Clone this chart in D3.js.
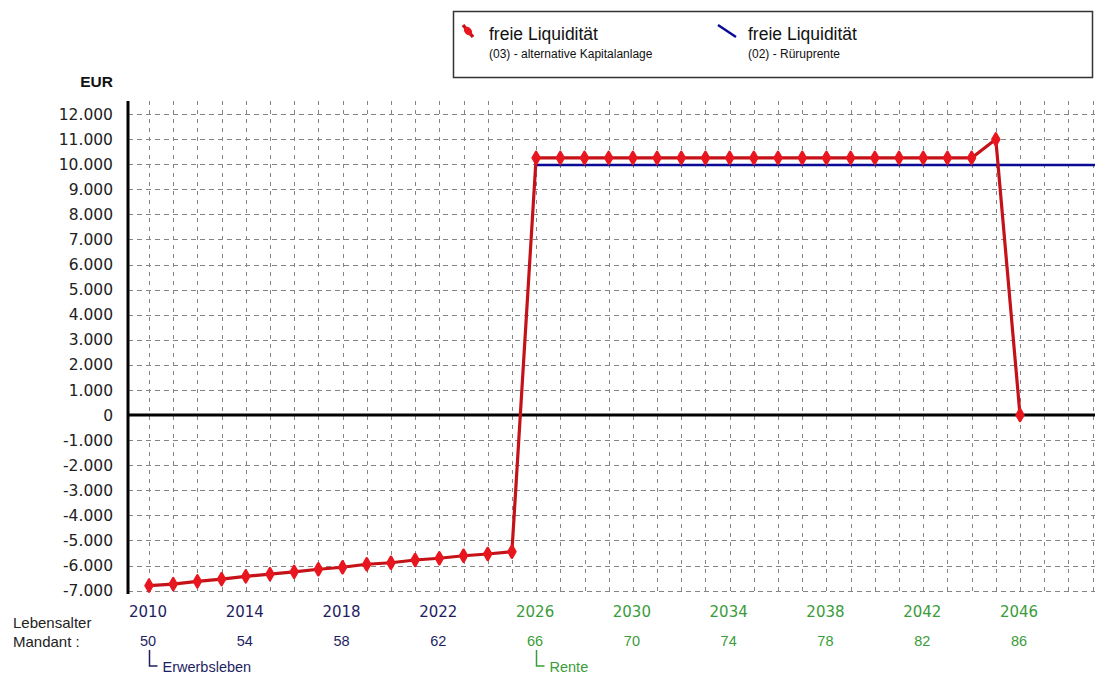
<!DOCTYPE html>
<html>
<head>
<meta charset="utf-8">
<script src="https://cdn.jsdelivr.net/npm/d3@7"></script>
<style>
  html, body { margin: 0; padding: 0; background: #fff; }
  svg { display: block; }
</style>
</head>
<body>
<svg id="chart" width="1095" height="675"></svg>
<script>
// ---------------- data ----------------
const redYears = [2010,2011,2012,2013,2014,2015,2016,2017,2018,2019,2020,2021,2022,2023,2024,2025,
                  2026,2027,2028,2029,2030,2031,2032,2033,2034,2035,2036,2037,2038,2039,2040,2041,2042,2043,2044,2045,2046];
const redValues = [-6800,-6740,-6630,-6540,-6430,-6340,-6250,-6150,-6070,-5950,-5890,-5780,-5710,-5610,-5540,-5450,
                   10250,10250,10250,10250,10250,10250,10250,10250,10250,10250,10250,10250,10250,10250,10250,10250,10250,10250,10250,10990,0];
const blueYears = [2026,2027,2028,2029,2030,2031,2032,2033,2034,2035,2036,2037,2038,2039,2040,2041,2042,2043,2044,2045,2046,2047,2048,2049,2050];
const blueValues = [9970,9970,9970,9970,9970,9970,9970,9970,9970,9970,9970,9970,9970,9970,9970,9970,9970,9970,9970,9970,9970,9970,9970,9970,9970];
const yTicks = [12000,11000,10000,9000,8000,7000,6000,5000,4000,3000,2000,1000,0,-1000,-2000,-3000,-4000,-5000,-6000,-7000];
const yTickLabels = ["12.000","11.000","10.000","9.000","8.000","7.000","6.000","5.000","4.000","3.000","2.000","1.000","0","-1.000","-2.000","-3.000","-4.000","-5.000","-6.000","-7.000"];
const gridYears = [2010,2011,2012,2013,2014,2015,2016,2017,2018,2019,2020,2021,2022,2023,2024,2025,2026,2027,2028,2029,
                   2030,2031,2032,2033,2034,2035,2036,2037,2038,2039,2040,2041,2042,2043,2044,2045,2046,2047,2048,2049];
const yearLabels = [2010,2014,2018,2022,2026,2030,2034,2038,2042,2046];
const ageLabels = [50,54,58,62,66,70,74,78,82,86];
const retireYear = 2026;
const legendItems = [
  {title: "freie Liquidität", sub: "(03) - alternative Kapitalanlage", color: "red"},
  {title: "freie Liquidität", sub: "(02) - Rüruprente", color: "blue"}
];

// ---------------- layout ----------------
const svg = d3.select("#chart");
const plotLeft = 128, plotRight = 1095, plotTop = 101, plotBottom = 594;
const x = d3.scaleLinear().domain([2010, 2046]).range([149, 1020]);
const y = d3.scaleLinear().domain([-7000, 12000]).range([590.6, 114]);
const navy = "#1e1e62", green = "#3a9c3a";
const redLine = "#c41218", redMark = "#e8161e", blueLine = "#0a0a96";
const sans = "'Liberation Sans', Arial, sans-serif";
const wide = "'DejaVu Sans', sans-serif";

svg.append("defs").append("clipPath").attr("id", "plotclip")
  .append("rect").attr("x", plotLeft).attr("y", plotTop - 10)
  .attr("width", plotRight - plotLeft).attr("height", plotBottom - plotTop + 20);

// grid
const grid = svg.append("g");
grid.selectAll("line.h").data(yTicks).join("line")
  .attr("x1", plotLeft).attr("x2", plotRight)
  .attr("y1", d => Math.round(y(d)) + 0.5).attr("y2", d => Math.round(y(d)) + 0.5)
  .attr("stroke", "#858585").attr("stroke-width", 1).attr("stroke-dasharray", "5,4");
grid.selectAll("line.v").data(gridYears).join("line")
  .attr("x1", d => Math.round(x(d)) + 0.5).attr("x2", d => Math.round(x(d)) + 0.5)
  .attr("y1", plotTop).attr("y2", plotBottom)
  .attr("stroke", "#858585").attr("stroke-width", 1).attr("stroke-dasharray", "4,5");

// zero line & y axis line
svg.append("line").attr("x1", plotLeft).attr("x2", plotRight)
  .attr("y1", y(0)).attr("y2", y(0)).attr("stroke", "#000").attr("stroke-width", 3);
svg.append("line").attr("x1", plotLeft).attr("x2", plotLeft)
  .attr("y1", plotTop).attr("y2", plotBottom).attr("stroke", "#000").attr("stroke-width", 3);

// y tick labels
svg.append("g").selectAll("text").data(yTicks).join("text")
  .attr("x", 113).attr("y", d => y(d)).attr("dy", "0.36em")
  .attr("text-anchor", "end").attr("font-family", wide).attr("font-size", 15.5)
  .attr("fill", "#222").text((d, i) => yTickLabels[i]);

svg.append("text").attr("x", 113).attr("y", 87).attr("text-anchor", "end")
  .attr("font-family", sans).attr("font-weight", "bold").attr("font-size", 15.5)
  .attr("fill", "#111").text("EUR");

// series
const plot = svg.append("g").attr("clip-path", "url(#plotclip)");
const lineGen = d3.line().x(d => x(d[0])).y(d => y(d[1]));
const blueData = blueYears.map((yr, i) => [yr, blueValues[i]]);
const redData = redYears.map((yr, i) => [yr, redValues[i]]);
plot.append("path").datum(blueData).attr("d", lineGen)
  .attr("fill", "none").attr("stroke", blueLine).attr("stroke-width", 2.5);
plot.append("path").datum(redData).attr("d", lineGen)
  .attr("fill", "none").attr("stroke", redLine).attr("stroke-width", 3.2).attr("stroke-linejoin", "round");
plot.selectAll("path.mk").data(redData).join("path")
  .attr("transform", d => `translate(${x(d[0])},${y(d[1])})`)
  .attr("d", d3.symbol().type(d3.symbolDiamond).size(42))
  .attr("fill", redMark).attr("stroke", redMark).attr("stroke-width", 2.5).attr("stroke-linejoin", "round");

// x labels: years and ages
svg.append("g").selectAll("text").data(yearLabels).join("text")
  .attr("x", d => x(d) - 1).attr("y", 617).attr("text-anchor", "middle")
  .attr("font-family", wide).attr("font-size", 15)
  .attr("fill", d => d >= retireYear ? green : navy).text(d => d);
svg.append("g").selectAll("text").data(ageLabels).join("text")
  .attr("x", (d, i) => x(yearLabels[i]) - 1).attr("y", 646).attr("text-anchor", "middle")
  .attr("font-family", sans).attr("font-size", 14.5)
  .attr("fill", (d, i) => yearLabels[i] >= retireYear ? green : navy).text(d => d);

svg.append("text").attr("x", 13).attr("y", 628).attr("font-family", sans).attr("font-size", 15)
  .attr("fill", "#222").text("Lebensalter");
svg.append("text").attr("x", 13).attr("y", 647).attr("font-family", sans).attr("font-size", 15)
  .attr("fill", "#222").text("Mandant :");

// phase markers
function phase(year, label, color) {
  const px = Math.round(x(year)) + 0.5;
  svg.append("path").attr("d", `M${px},650 V666 H${px + 8}`)
    .attr("fill", "none").attr("stroke", color).attr("stroke-width", 1.5);
  svg.append("text").attr("x", px + 13).attr("y", 672).attr("font-family", sans)
    .attr("font-size", 14.5).attr("fill", color).text(label);
}
phase(2010, "Erwerbsleben", navy);
phase(2026, "Rente", green);

// legend
svg.append("rect").attr("x", 453.5).attr("y", 11.5).attr("width", 639).attr("height", 66)
  .attr("fill", "#fff").attr("stroke", "#333").attr("stroke-width", 1.5);
const lg = svg.append("g");
const legendX = [463, 718];
legendItems.forEach((it, i) => {
  const lx = legendX[i];
  if (it.color === "red") {
    lg.append("line").attr("x1", lx).attr("y1", 25).attr("x2", lx + 10).attr("y2", 37)
      .attr("stroke", redLine).attr("stroke-width", 3.5);
    lg.append("ellipse").attr("cx", lx + 5).attr("cy", 31).attr("rx", 3.5).attr("ry", 4.5)
      .attr("transform", `rotate(-40 ${lx + 5} 31)`).attr("fill", redMark);
  } else {
    lg.append("line").attr("x1", lx).attr("y1", 25).attr("x2", lx + 18).attr("y2", 37)
      .attr("stroke", blueLine).attr("stroke-width", 2.5);
  }
  const tx = lx + (it.color === "red" ? 26 : 30);
  lg.append("text").attr("x", tx).attr("y", 40).attr("font-family", sans).attr("font-size", 17.5)
    .attr("fill", "#111").text(it.title);
  lg.append("text").attr("x", tx).attr("y", 58).attr("font-family", sans).attr("font-size", 12)
    .attr("fill", "#111").text(it.sub);
});
</script>
</body>
</html>
